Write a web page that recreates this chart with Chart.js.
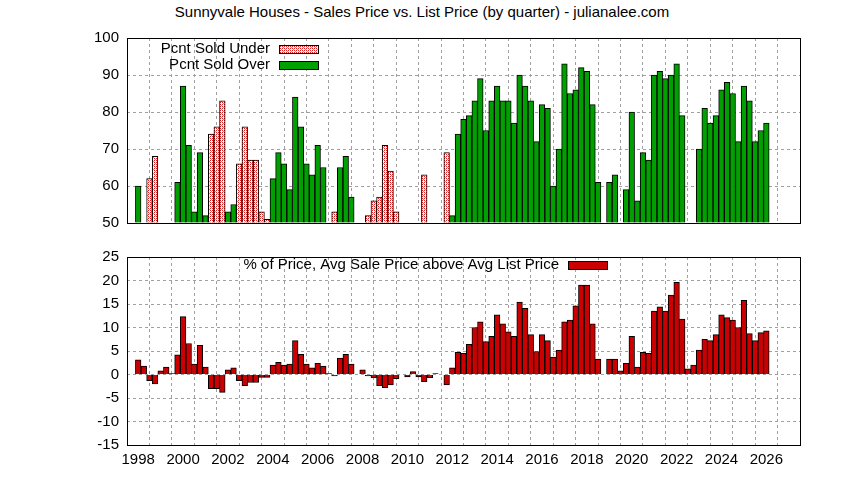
<!DOCTYPE html>
<html>
<head>
<meta charset="utf-8">
<script src="https://cdn.jsdelivr.net/npm/chart.js@4/dist/chart.umd.min.js"></script>
<style>
  body { margin: 0; background: #fff; width: 844px; height: 480px; overflow: hidden; font-family: "Liberation Sans", Arial, sans-serif; }
  #title { position: absolute; top: 3px; left: 0; width: 844px; text-align: center; font-size: 15px; color: #000; }
  .box { position: absolute; left: 0; width: 844px; height: 240px; }
</style>
</head>
<body>
<div id="title">Sunnyvale Houses - Sales Price vs. List Price (by quarter) - julianalee.com</div>
<div class="box" style="top:0"><canvas id="topChart" width="844" height="240"></canvas></div>
<div class="box" style="top:240px"><canvas id="bottomChart" width="844" height="240"></canvas></div>
<script>
// quarterly, 1998 Q1 .. 2026 Q1
const startYear = 1998;
const yearTicks = [1998, 2000, 2002, 2004, 2006, 2008, 2010, 2012, 2014, 2016, 2018, 2020, 2022, 2024, 2026];

// Pcnt Sold Under (null = no bar)
const pctUnder = [
  null, null, 62, 68, null, null, null, null, null, null, null, null, null, 74, 76, 83,
  null, null, 66, 76, 67, 67, 53, 51, null, null, null, null, null, null, null, null,
  null, null, null, 53, null, null, null, null, null, 52, 56, 57, 71, 64, 53, null,
  null, null, null, 63, null, null, null, 69
];
// Pcnt Sold Over
const pctOver = [
  60, null, null, null, null, null, null, 61, 87, 71, 53, 69, 52, null, null, null,
  53, 55, null, null, null, null, null, null, 62, 69, 66, 59, 84, 76, 66, 63,
  71, 65, null, null, 65, 68, 57, null, null, null, null, null, null, null, null, null,
  null, null, null, null, null, null, null, null, 52, 74, 78, 79, 83, 89, 75, 83,
  87, 83, 83, 77, 90, 87, 83, 72, 82, 81, 60, 70, 93, 85, 86, 92, 91, 82, 61, null,
  61, 63, null, 59, 80, 56, 69, 67, 90, 91, 89, 90, 93, 79, null, null,
  70, 81, 77, 79, 86, 88, 85, 72, 87, 83, 72, 75, 77
];
// % of Price, Avg Sale Price above Avg List Price
const pctAbove = [
  3.1, 1.8, -1.3, -2.0, 0.8, 1.6, 0.2, 4.2, 12.3, 6.6, 2.2, 6.2, 1.6, -3.0, -3.0, -3.8,
  1.0, 1.4, -1.3, -2.4, -1.7, -1.7, -0.6, -0.6, 2.0, 2.6, 2.0, 2.2, 7.2, 4.3, 2.2, 1.4,
  2.4, 1.8, 0.2, -0.3, 3.5, 4.3, 2.2, 0, 1.0, -0.3, -0.7, -2.4, -2.8, -2.2, -0.9, 0,
  -0.5, 0.6, -0.5, -1.5, -0.7, 0.2, 0, -2.2, 1.4, 4.7, 4.5, 6.4, 10.0, 11.2, 7.0, 8.1,
  12.7, 10.8, 9.1, 8.1, 15.4, 14.1, 8.5, 4.9, 8.5, 7.2, 3.7, 5.2, 11.2, 11.6, 14.6, 19.0,
  19.0, 10.8, 3.3, 0, 3.3, 3.3, 0.8, 2.4, 8.1, 1.6, 4.7, 4.5, 13.5, 14.4, 13.5, 16.9,
  19.6, 11.8, 1.2, 2.0, 5.2, 7.5, 7.2, 8.5, 12.7, 12.1, 11.6, 10.0, 15.8, 8.7, 7.2, 8.9,
  9.3
];

const toPoints = arr => arr.map((v, i) => ({ x: startYear + i * 0.25, y: v }));

function hatch() {
  const c = document.createElement('canvas');
  c.width = 4; c.height = 4;
  const g = c.getContext('2d');
  g.fillStyle = '#fff'; g.fillRect(0, 0, 4, 4);
  g.fillStyle = '#e02020';
  g.fillRect(0, 0, 1, 1); g.fillRect(2, 2, 1, 1); g.fillRect(2, 0, 1, 1); g.fillRect(0, 2, 1, 1);
  g.fillStyle = '#f08080';
  g.fillRect(1, 1, 1, 1); g.fillRect(3, 3, 1, 1);
  return g.createPattern(c, 'repeat');
}
const hatchFill = hatch();

const FONT = { family: '"Liberation Sans", Arial, sans-serif', size: 15 };
const gridStyle = { color: '#a0a0a0', lineWidth: 1, drawTicks: false };
const dash = [3, 3];

// frame + legend drawn on top
function framePlugin(items) {
  return {
    id: 'frame',
    afterDraw(chart) {
      const { ctx, chartArea: a } = chart;
      ctx.save();
      ctx.strokeStyle = '#000'; ctx.lineWidth = 1;
      ctx.strokeRect(a.left + 0.5, a.top + 0.5, a.right - a.left, a.bottom - a.top);
      ctx.font = '15px "Liberation Sans", Arial, sans-serif';
      ctx.textAlign = 'right'; ctx.textBaseline = 'middle';
      items.forEach(it => {
        ctx.fillStyle = '#000';
        ctx.fillText(it.text, it.x, it.y);
        ctx.fillStyle = it.fill;
        ctx.fillRect(it.x + 9, it.y - 4, 39, 8);
        ctx.strokeRect(it.x + 9.5, it.y - 3.5, 39, 8);
      });
      ctx.restore();
    }
  };
}

function xAxis(showLabels, height) {
  return {
    type: 'linear', min: 1998, max: 2027,
    afterFit: s => { s.height = height; },
    afterBuildTicks: s => { s.ticks = []; for (let y = 1998; y <= 2027; y++) s.ticks.push({ value: y }); },
    border: { display: false, dash: dash },
    grid: gridStyle,
    ticks: {
      display: showLabels, color: '#000', font: FONT, padding: 6, maxRotation: 0, autoSkip: false,
      callback: v => yearTicks.includes(v) ? String(v) : ''
    }
  };
}

function yAxis(min, max, step) {
  return {
    min: min, max: max,
    afterFit: s => { s.width = 127; },
    border: { display: false, dash: dash },
    grid: gridStyle,
    ticks: { stepSize: step, color: '#000', font: FONT, padding: 8 }
  };
}

new Chart(document.getElementById('topChart'), {
  type: 'bar',
  data: {
    datasets: [
      { label: 'Pcnt Sold Under', data: toPoints(pctUnder), backgroundColor: hatchFill, borderColor: '#000', borderWidth: 1, base: 50 },
      { label: 'Pcnt Sold Over', data: toPoints(pctOver), backgroundColor: '#00a000', borderColor: '#000', borderWidth: 1, base: 50 }
    ]
  },
  options: {
    responsive: false, animation: false,
    layout: { padding: { top: 38, right: 44, left: 0, bottom: 0 } },
    datasets: { bar: { grouped: false, barPercentage: 1, categoryPercentage: 1 } },
    plugins: { legend: { display: false }, tooltip: { enabled: false } },
    scales: { x: xAxis(false, 10), y: yAxis(50, 100, 10) }
  },
  plugins: [framePlugin([
    { text: 'Pcnt Sold Under', x: 270, y: 49, fill: hatchFill },
    { text: 'Pcnt Sold Over', x: 270, y: 65, fill: '#00a000' }
  ])]
});

new Chart(document.getElementById('bottomChart'), {
  type: 'bar',
  data: {
    datasets: [
      { label: '% of Price, Avg Sale Price above Avg List Price', data: toPoints(pctAbove), backgroundColor: '#cc0000', borderColor: '#000', borderWidth: 1 }
    ]
  },
  options: {
    responsive: false, animation: false,
    layout: { padding: { top: 14, right: 44, left: 0, bottom: 0 } },
    datasets: { bar: { barPercentage: 1, categoryPercentage: 1 } },
    plugins: { legend: { display: false }, tooltip: { enabled: false } },
    scales: { x: xAxis(true, 35), y: yAxis(-15, 25, 5) }
  },
  plugins: [framePlugin([
    { text: '% of Price, Avg Sale Price above Avg List Price', x: 559, y: 25, fill: '#cc0000' }
  ])]
});
</script>
</body>
</html>
